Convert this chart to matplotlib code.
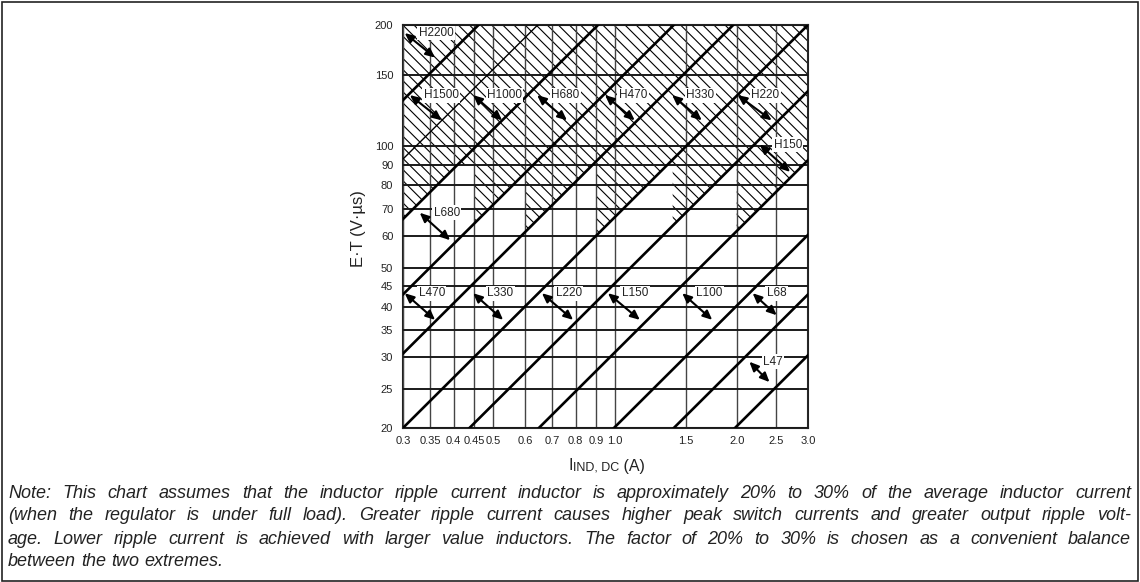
import numpy as np
import matplotlib
matplotlib.use("Agg")
import matplotlib.pyplot as plt
from matplotlib.patches import Rectangle
from matplotlib.ticker import NullLocator
from matplotlib.offsetbox import TextArea, HPacker, AnnotationBbox

plt.rcParams['font.family'] = ['Liberation Sans', 'DejaVu Sans']
plt.rcParams['hatch.color'] = 'black'
plt.rcParams['hatch.linewidth'] = 0.8

# axis ticks
x_ticks = [0.3, 0.35, 0.4, 0.45, 0.5, 0.6, 0.7, 0.8, 0.9, 1.0, 1.5, 2.0, 2.5, 3.0]
x_tick_labels = ["0.3", "0.35", "0.4", "0.45", "0.5", "0.6", "0.7",
                 "0.8", "0.9", "1.0", "1.5", "2.0", "2.5", "3.0"]
y_ticks = [20, 25, 30, 35, 40, 45, 50, 60, 70, 80, 90, 100, 150, 200]

# region boundaries as E.T / I (V.us per A)
thick_k = [434, 220, 143, 102, 66.7, 45.7, 30.8, 20.1, 14.3, 10.1]
thin_k = [310]

# hatched H area: from each current the shading drops to the given boundary,
# above 90 V.us it is shaded everywhere
hatch_level = 90
hatch_step_i = [0.3, 0.45, 0.6, 0.9, 1.39, 2.0]
hatch_step_k = [220, 143, 102, 66.7, 45.7, 30.8]

# inductor codes: arrow from (I, E.T) to (I, E.T)
codes = ["H2200", "H1500", "H1000", "H680", "H470", "H330", "H220", "H150",
         "L680", "L470", "L330", "L220", "L150", "L100", "L68", "L47"]
arrow_from = [(0.303, 191), (0.312, 134), (0.447, 134), (0.643, 134),
              (0.946, 134), (1.386, 134), (2.01, 134), (2.28, 101),
              (0.330, 68.4), (0.303, 43.2), (0.447, 43.2), (0.661, 43.2),
              (0.962, 43.2), (1.468, 43.2), (2.19, 43.2), (2.15, 29.2)]
arrow_to = [(0.360, 166), (0.374, 116), (0.527, 116), (0.762, 116),
            (1.12, 116), (1.64, 116), (2.44, 116), (2.71, 86.4),
            (0.392, 58.5), (0.360, 37.1), (0.530, 37.1), (0.789, 37.1),
            (1.153, 37.1), (1.74, 37.1), (2.51, 38.1), (2.41, 26.0)]

note_lines = [
    "Note: This chart assumes that the inductor ripple current inductor is approximately 20% to 30% of the average inductor current",
    "(when the regulator is under full load). Greater ripple current causes higher peak switch currents and greater output ripple volt-",
    "age. Lower ripple current is achieved with larger value inductors. The factor of 20% to 30% is chosen as a convenient balance",
    "between the two extremes.",
]

W, H = 1140, 582
fig = plt.figure(figsize=(W / 100, H / 100), dpi=100)
ax = fig.add_axes([403 / W, 1 - 428 / H, 405 / W, 403 / H])
ax.set_xscale('log')
ax.set_yscale('log')
ax.set_xlim(0.3, 3.0)
ax.set_ylim(20, 200)

# hatched region
xs, ys = [0.3], [200]
for n, (i0, k) in enumerate(zip(hatch_step_i, hatch_step_k)):
    i1 = hatch_step_i[n + 1] if n + 1 < len(hatch_step_i) else 3.0
    xs.append(i0); ys.append(k * i0)
    if k * i1 > hatch_level:
        xs += [hatch_level / k, i1]; ys += [hatch_level, hatch_level]
    else:
        xs.append(i1); ys.append(k * i1)
xs.append(3.0); ys.append(200)
ax.fill(xs, ys, facecolor='none', edgecolor='black', linewidth=0,
        hatch='\\\\\\', zorder=1)

ax.set_xticks(x_ticks)
ax.set_xticklabels(x_tick_labels)
ax.set_yticks(y_ticks)
ax.set_yticklabels([str(v) for v in y_ticks])
ax.xaxis.set_minor_locator(NullLocator())
ax.yaxis.set_minor_locator(NullLocator())
ax.tick_params(length=0, labelsize=8, colors='#222222')
ax.tick_params(axis='x', pad=6)
ax.tick_params(axis='y', pad=7)
ax.grid(axis='x', color='#444444', lw=1.0, zorder=2)
ax.grid(axis='y', color='#1a1a1a', lw=1.4, zorder=2)
ax.set_axisbelow(False)
for s in ax.spines.values():
    s.set_linewidth(1.5)
    s.set_color('#222222')

ii = np.array([0.3, 3.0])
for k in thick_k:
    ax.plot(ii, k * ii, color='black', lw=1.9, zorder=3, scalex=False, scaley=False)
for k in thin_k:
    ax.plot(ii, k * ii, color='black', lw=1.0, zorder=3, scalex=False, scaley=False)

for code, a, b in zip(codes, arrow_from, arrow_to):
    ax.annotate('', xy=b, xytext=a,
                arrowprops=dict(arrowstyle='<|-|>,head_length=0.55,head_width=0.25',
                                lw=1.5, color='black', shrinkA=0, shrinkB=0),
                zorder=6)
    ax.annotate(code, xy=a, xytext=(10, 0), textcoords='offset points',
                ha='left', va='center', fontsize=8.5, color='#222222',
                bbox=dict(boxstyle='square,pad=0.12', fc='white', ec='none'),
                zorder=5)

# axis titles
fig.text(358 / W, 1 - 229 / H, "E·T (V·µs)", rotation=90, ha='center',
         va='center', fontsize=12, color='#222222')
xl = HPacker(children=[TextArea("I", textprops=dict(size=11.5, color='#222222')),
                       TextArea("IND, DC", textprops=dict(size=9, color='#222222')),
                       TextArea(" (A)", textprops=dict(size=11.5, color='#222222'))],
             align='baseline', pad=0, sep=0)
fig.add_artist(AnnotationBbox(xl, (607 / W, 1 - 466 / H), xycoords='figure fraction',
                              frameon=False, box_alignment=(0.5, 0.5)))

# justified note, font size fitted so the first line nearly fills the width
renderer = fig.canvas.get_renderer()


def text_width(s, **kw):
    t = fig.text(0, 0, s, **kw)
    w = t.get_window_extent(renderer).width
    t.remove()
    return w


x0, x1 = 8, 1131
fit = 10 * (x1 - x0 - 20) / text_width(note_lines[0], fontsize=10, style='italic')
note_style = dict(fontsize=min(fit, 13), style='italic', color='#222222',
                  ha='left', va='center')
space = text_width("a a", **note_style) - 2 * text_width("a", **note_style)
for n, line in enumerate(note_lines):
    y = 1 - (493 + 23 * n) / H
    words = line.split()
    texts = [fig.text(0, y, w, **note_style) for w in words]
    widths = [t.get_window_extent(renderer).width for t in texts]
    if n < len(note_lines) - 1:
        gap = (x1 - x0 - sum(widths)) / (len(words) - 1)
    else:
        gap = space
    x = x0
    for t, w in zip(texts, widths):
        t.set_x(x / W)
        x += w + gap

fig.add_artist(Rectangle((2 / W, 1 / H), 1 - 4 / W, 1 - 3 / H,
                         transform=fig.transFigure, fill=False, lw=1.2, ec='#222222'))

fig.savefig("out.png", dpi=100)
